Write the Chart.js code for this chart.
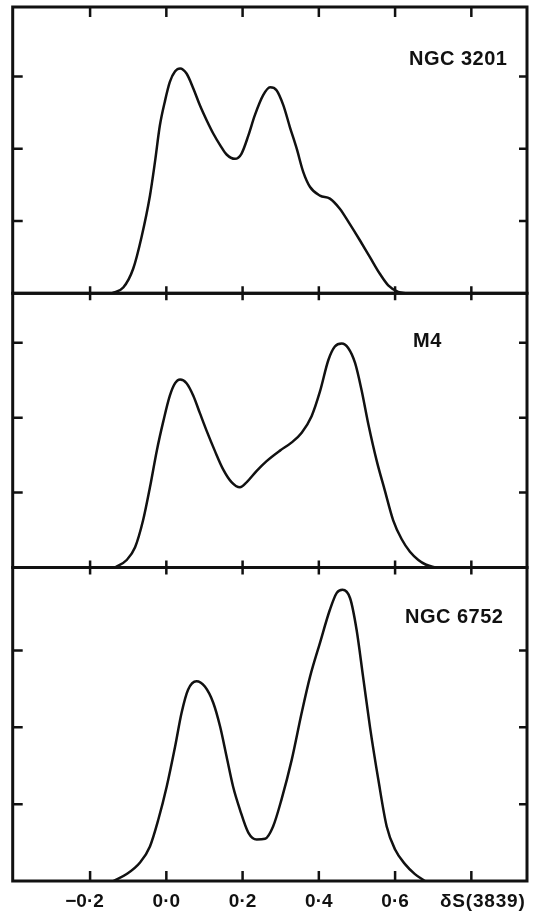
<!DOCTYPE html>
<html>
<head>
<meta charset="utf-8">
<title>δS(3839) distributions</title>
<script src="https://cdn.jsdelivr.net/npm/chart.js"></script>
<style>
  html, body { margin: 0; padding: 0; background: #fff; }
  #wrap { position: relative; width: 538px; height: 915px; }
  #wrap canvas { position: absolute; left: 0; top: 0; }
</style>
</head>
<body>
<div id="wrap">
  <canvas id="c1" width="538" height="915"></canvas>
  <canvas id="c2" width="538" height="915"></canvas>
  <canvas id="c3" width="538" height="915"></canvas>
</div>
<script>
// values (x = delta S(3839), y in tick units)
const ngc3201X = [-0.143, -0.113, -0.087, -0.065, -0.043, -0.030, -0.017, -0.004, 0.009, 0.023,
                  0.036, 0.053, 0.071, 0.088, 0.106, 0.123, 0.141, 0.158, 0.180, 0.197,
                  0.215, 0.232, 0.254, 0.272, 0.289, 0.307, 0.324, 0.342, 0.359, 0.377,
                  0.403, 0.429, 0.455, 0.481, 0.508, 0.534, 0.560, 0.582, 0.608, 0.630];
const ngc3201Y = [0, 0.08, 0.34, 0.78, 1.35, 1.81, 2.32, 2.65, 2.92, 3.07,
                  3.11, 3.04, 2.83, 2.60, 2.39, 2.21, 2.05, 1.92, 1.86, 1.93,
                  2.18, 2.46, 2.74, 2.85, 2.81, 2.60, 2.30, 2.00, 1.68, 1.47,
                  1.35, 1.31, 1.17, 0.96, 0.73, 0.50, 0.27, 0.11, 0.02, 0];

const m4X = [-0.135, -0.104, -0.082, -0.061, -0.043, -0.025, -0.008, 0.009, 0.023, 0.036,
             0.053, 0.071, 0.088, 0.106, 0.127, 0.149, 0.171, 0.193, 0.211, 0.237,
             0.263, 0.298, 0.329, 0.355, 0.381, 0.403, 0.425, 0.442, 0.460, 0.477,
             0.495, 0.512, 0.530, 0.552, 0.573, 0.595, 0.617, 0.639, 0.661, 0.680, 0.707];
const m4Y = [0, 0.10, 0.27, 0.63, 1.07, 1.56, 1.95, 2.29, 2.46, 2.51,
             2.46, 2.29, 2.06, 1.82, 1.56, 1.31, 1.14, 1.07, 1.14, 1.29,
             1.42, 1.56, 1.67, 1.80, 2.02, 2.35, 2.77, 2.95, 2.99, 2.93,
             2.73, 2.37, 1.91, 1.42, 1.03, 0.63, 0.38, 0.21, 0.10, 0.04, 0];

const ngc6752X = [-0.139, -0.104, -0.069, -0.043, -0.021, 0.001, 0.023, 0.040, 0.057, 0.079,
                  0.101, 0.123, 0.141, 0.158, 0.175, 0.193, 0.215, 0.237, 0.259, 0.280,
                  0.302, 0.329, 0.355, 0.377, 0.403, 0.429, 0.447, 0.462, 0.482, 0.499,
                  0.516, 0.534, 0.556, 0.578, 0.600, 0.626, 0.652, 0.678];
const ngc6752Y = [0, 0.09, 0.24, 0.45, 0.80, 1.23, 1.75, 2.19, 2.49, 2.60,
                  2.53, 2.32, 2.01, 1.62, 1.23, 0.93, 0.63, 0.54, 0.55, 0.71,
                  1.06, 1.58, 2.19, 2.66, 3.10, 3.53, 3.75, 3.79, 3.68, 3.27,
                  2.66, 2.01, 1.32, 0.71, 0.41, 0.22, 0.09, 0];

const xTicks = [-0.2, 0, 0.2, 0.4, 0.6, 0.8];
const yTicks = [1, 2, 3];
const xLabelValues = [-0.2, 0, 0.2, 0.4, 0.6];
const xLabels = ['−0·2', '0·0', '0·2', '0·4', '0·6'];
const axisTitle = 'δS(3839)';
const panelNames = ['NGC 3201', 'M4', 'NGC 6752'];

const INK = '#111';

// frame, inward ticks, panel name and (bottom panel) axis labels
const framePlugin = {
  id: 'frame',
  afterDatasetsDraw(chart, args, opts) {
    const ctx = chart.ctx, a = chart.chartArea;
    const xs = chart.scales.x, ys = chart.scales.y;
    ctx.save();
    ctx.strokeStyle = INK;
    ctx.lineWidth = 2.5;
    xTicks.forEach(v => {
      const px = xs.getPixelForValue(v);
      ctx.beginPath();
      ctx.moveTo(px, a.top); ctx.lineTo(px, a.top + opts.tickTop);
      ctx.moveTo(px, a.bottom); ctx.lineTo(px, a.bottom - opts.tickBottom);
      ctx.stroke();
    });
    yTicks.forEach(v => {
      const py = ys.getPixelForValue(v);
      ctx.beginPath();
      ctx.moveTo(a.left, py); ctx.lineTo(a.left + 10, py);
      ctx.moveTo(a.right, py); ctx.lineTo(a.right - 8, py);
      ctx.stroke();
    });
    ctx.lineWidth = 3;
    ctx.strokeRect(a.left, a.top, a.right - a.left, a.bottom - a.top);

    ctx.fillStyle = INK;
    ctx.textBaseline = 'alphabetic';
    ctx.textAlign = 'left';
    ctx.font = 'bold 20px "Liberation Sans"';
    ctx.letterSpacing = '0.5px';
    ctx.fillText(opts.label, opts.labelX, opts.labelY);

    if (opts.axis) {
      ctx.font = 'bold 19px "Liberation Sans"';
      ctx.letterSpacing = '0px';
      ctx.textAlign = 'right';
      xLabelValues.forEach((v, i) => {
        const px = xs.getPixelForValue(v);
        const txt = xLabels[i];
        const core = txt.replace('−', '');
        const half = ctx.measureText(core).width / 2;
        ctx.fillText(txt, px + half, a.bottom + 26);
      });
      ctx.textAlign = 'left';
      ctx.letterSpacing = '0.8px';
      ctx.fillText(axisTitle, 440, a.bottom + 26);
    }
    ctx.restore();
  }
};

function makePanel(id, xs, ys, yMax, pad, frameOpts) {
  const pts = xs.map((x, i) => ({ x: x, y: ys[i] }));
  return new Chart(document.getElementById(id), {
    type: 'line',
    data: {
      datasets: [{
        data: pts,
        borderColor: INK,
        borderWidth: 2.5,
        pointRadius: 0,
        fill: false,
        tension: 0.4,
        cubicInterpolationMode: 'monotone'
      }]
    },
    options: {
      responsive: false,
      animation: false,
      layout: { padding: pad },
      scales: {
        x: { type: 'linear', min: -0.403, max: 0.946, display: false },
        y: { type: 'linear', min: 0, max: yMax, display: false }
      },
      plugins: {
        legend: { display: false },
        tooltip: { enabled: false },
        frame: frameOpts
      }
    },
    plugins: [framePlugin]
  });
}

makePanel('c1', ngc3201X, ngc3201Y, 3.96,
  { left: 12.7, right: 11, top: 7, bottom: 621.7 },
  { label: panelNames[0], labelX: 409, labelY: 65, tickTop: 10, tickBottom: 7 });

makePanel('c2', m4X, m4Y, 3.66,
  { left: 12.7, right: 11, top: 293.3, bottom: 347.5 },
  { label: panelNames[1], labelX: 413, labelY: 347, tickTop: 7, tickBottom: 7 });

makePanel('c3', ngc6752X, ngc6752Y, 4.08,
  { left: 12.7, right: 11, top: 567.5, bottom: 34 },
  { label: panelNames[2], labelX: 405, labelY: 623, tickTop: 7, tickBottom: 10, axis: true });
</script>
</body>
</html>
